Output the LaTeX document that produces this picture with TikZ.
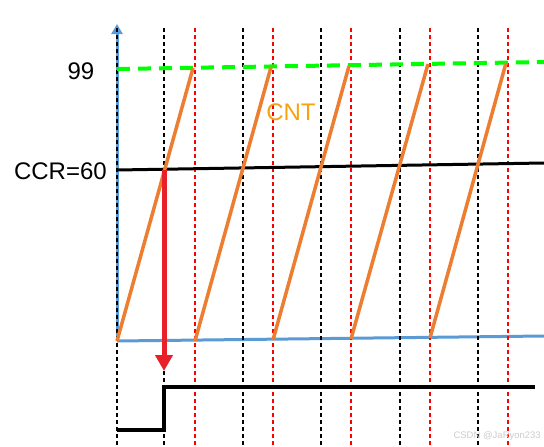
\documentclass[tikz,border=0pt]{standalone}
\usepackage{fontspec}
\setmainfont{Liberation Sans}
\usetikzlibrary{arrows.meta}
\definecolor{axisblue}{HTML}{5B9BD5}
\definecolor{cntorange}{HTML}{ED7D31}
\definecolor{cnttext}{HTML}{F5A30F}
\definecolor{topgreen}{HTML}{00FF00}
\definecolor{arrowred}{HTML}{E8202A}
\begin{document}
\begin{tikzpicture}[x=1pt,y=-1pt,
  bdash/.style={black,line width=1.1pt,dash pattern=on 4pt off 3pt},
  rdash/.style={red,line width=1.1pt,dash pattern=on 4pt off 3pt},
  ramp/.style={cntorange,line width=3.5pt},
  lbl/.style={font=\fontsize{24}{26}\selectfont,inner sep=0pt}]
\useasboundingbox (0,0) rectangle (544,447);
\fill[white] (0,0) rectangle (544,447);
% axis and baseline
\coordinate (o) at (117,341);
\coordinate (top) at (117,24);
\coordinate (br) at (544,336);
\draw[axisblue,line width=3pt,-{Triangle[width=11pt,length=10pt]}] (o) -- (top);
\draw[axisblue,line width=3pt] (o) -- (br);
% vertical dashed lines
\foreach \x in {117,164,243,321,400,478} \draw[bdash] (\x,28) -- (\x,447);
\foreach \x in {195,273,351,430,508} \draw[rdash] (\x,28) -- (\x,447);
% 99 level
\coordinate (g1) at (117,69);
\coordinate (g2) at (544,62);
\draw[topgreen,line width=4pt,dash pattern=on 13pt off 8pt] (g1) -- (g2);
% CCR level
\coordinate (c1) at (117,170);
\coordinate (c2) at (544,163);
\draw[black,line width=3pt] (c1) -- (c2);
% sawtooth
\draw[ramp] (117,341) -- (193,68);
\draw[ramp] (195,341) -- (271,67);
\draw[ramp] (273,340) -- (349,66);
\draw[ramp] (351,339) -- (428,64);
\draw[ramp] (430,338) -- (506,63);
% red arrow
\coordinate (a1) at (164,170);
\coordinate (a2) at (164,371);
\draw[arrowred,line width=5pt,-{Triangle[width=17pt,length=16pt]}] (a1) -- (a2);
% output
\coordinate (p0) at (117,430);
\coordinate (p1) at (164,430);
\coordinate (p2) at (164,387);
\coordinate (p3) at (535,387);
\draw[black,line width=4pt,line join=miter] (p0) -- (p1) -- (p2) -- (p3);
% labels
\node[lbl,anchor=center] (n99) at (81,71) {99};
\node[lbl,anchor=east] (nccr) at (107,171) {CCR=60};
\node[lbl,text=cnttext,anchor=center] (ncnt) at (291,112) {CNT};
\node[font=\fontsize{9.5}{11}\selectfont,text=black!20,anchor=east,inner sep=0pt] (wm) at (541,436) {CSDN @JaRyon233};
\end{tikzpicture}
\end{document}
